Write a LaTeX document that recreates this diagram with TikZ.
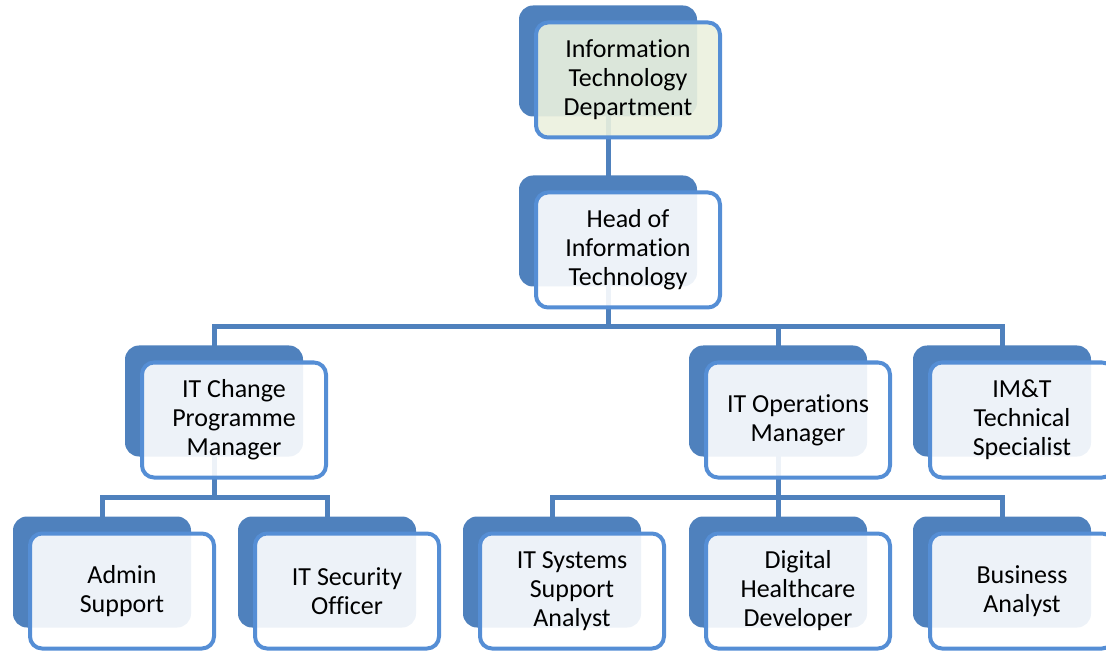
\documentclass[tikz,border=0pt]{standalone}
\usepackage{fontspec}
\setmainfont{Carlito}[Ligatures=NoCommon]
\usepackage{tikz}
\usetikzlibrary{calc}
\usetikzlibrary{backgrounds}
\definecolor{shadeblue}{HTML}{4F81BD}
\definecolor{rimblue}{HTML}{558ED5}
\definecolor{palegreen}{HTML}{EBF1DE}
\tikzset{
  back/.style={rectangle, rounded corners=14pt, fill=shadeblue, minimum width=178pt, minimum height=111pt, inner sep=0pt},
  card/.style={rectangle, rounded corners=12pt, draw=rimblue, line width=4pt, fill=white, fill opacity=0.9, text opacity=1, minimum width=184pt, minimum height=115pt, inner sep=0pt, align=center, font=\fontsize{26}{29}\selectfont},
  link/.style={draw=shadeblue, line width=5pt}
}
\begin{document}
\begin{tikzpicture}[x=1pt, y=-1pt]
     \useasboundingbox (0,0) rectangle (1106,652);
     %back shapes
     \node[back] (dept) at (608,61) {};
     \node[back] (head) at (608,231) {};
     \node[back] (chg) at (214,401) {};
     \node[back] (ops) at (778,401) {};
     \node[back] (imt) at (1002,401) {};
     \node[back] (adm) at (102,572) {};
     \node[back] (sec) at (327,572) {};
     \node[back] (sys) at (552,572) {};
     \node[back] (dig) at (778,572) {};
     \node[back] (bus) at (1002,572) {};

     %cards
     \node[card, fill=palegreen] (deptc) at ($(dept)+(20,19)$) {Information\\Technology\\Department};
     \node[card] (headc) at ($(head)+(20,19)$) {Head of\\Information\\Technology};
     \node[card] (chgc) at ($(chg)+(20,19)$) {IT Change\\Programme\\Manager};
     \node[card] (opsc) at ($(ops)+(20,19)$) {IT Operations\\Manager};
     \node[card] (imtc) at ($(imt)+(20,19)$) {IM\&T\\Technical\\Specialist};
     \node[card] (admc) at ($(adm)+(20,19)$) {Admin\\Support};
     \node[card] (secc) at ($(sec)+(20,19)$) {IT Security\\Officer};
     \node[card] (sysc) at ($(sys)+(20,19)$) {IT Systems\\Support\\Analyst};
     \node[card] (digc) at ($(dig)+(20,19)$) {Digital\\Healthcare\\Developer};
     \node[card] (busc) at ($(bus)+(20,19)$) {Business\\Analyst};

     %connectors
     \begin{pgfonlayer}{background}
     \draw[link] (dept.center) -- (head.center);
     \foreach \k in {chg,ops,imt}
        \draw[link] (head.center) -- ++(0,96) -| (\k.center);
     \foreach \k in {adm,sec}
        \draw[link] (chg.center) -- ++(0,96) -| (\k.center);
     \foreach \k in {sys,dig,bus}
        \draw[link] (ops.center) -- ++(0,96) -| (\k.center);
     \end{pgfonlayer}
\end{tikzpicture}
\end{document}
